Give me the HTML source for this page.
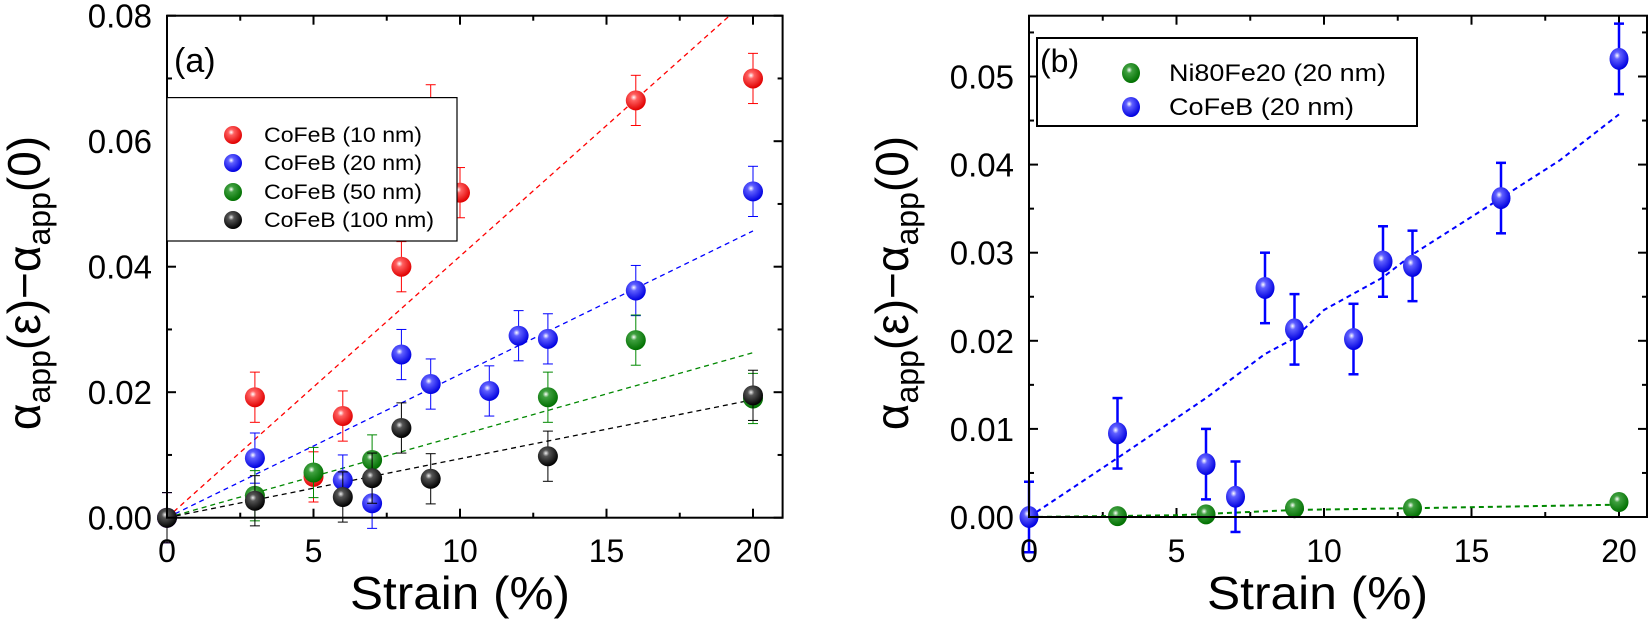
<!DOCTYPE html>
<html><head><meta charset="utf-8"><style>
html,body{margin:0;padding:0;background:#fff;}
svg{display:block;font-family:"Liberation Sans",sans-serif;}
</style></head><body>
<svg id="s" width="1649" height="621" viewBox="0 0 1649 621" xmlns="http://www.w3.org/2000/svg">
<defs>
<radialGradient id="gr" cx="0.4" cy="0.35" r="0.65"><stop offset="0" stop-color="#fff"/><stop offset="0.25" stop-color="#ff6060"/><stop offset="1" stop-color="#e00000"/></radialGradient>
<radialGradient id="gb" cx="0.4" cy="0.35" r="0.65"><stop offset="0" stop-color="#fff"/><stop offset="0.25" stop-color="#6060ff"/><stop offset="1" stop-color="#0000e0"/></radialGradient>
<radialGradient id="gg" cx="0.4" cy="0.35" r="0.65"><stop offset="0" stop-color="#fff"/><stop offset="0.25" stop-color="#40a040"/><stop offset="1" stop-color="#007000"/></radialGradient>
<radialGradient id="gk" cx="0.4" cy="0.35" r="0.65"><stop offset="0" stop-color="#eee"/><stop offset="0.25" stop-color="#555"/><stop offset="1" stop-color="#000"/></radialGradient>
</defs>
<g id="pa"></g>
<g id="pb"></g>
<rect x="167" y="15.7" width="615.6" height="502" fill="none" stroke="#000" stroke-width="2"/>
<g font-size="33" text-anchor="end">
<text x="152" y="529.7">0.00</text><text x="152" y="404.2">0.02</text><text x="152" y="278.7">0.04</text><text x="152" y="153.2">0.06</text><text x="152" y="27.7">0.08</text>
</g>
<g font-size="32" text-anchor="middle">
<text x="167" y="562">0</text><text x="313.5" y="562">5</text><text x="460" y="562">10</text><text x="606.5" y="562">15</text><text x="753" y="562">20</text>
</g>
<text x="350" y="609" font-size="46" textLength="220" lengthAdjust="spacingAndGlyphs">Strain (%)</text>
<text font-size="46" transform="translate(40,283) rotate(-90)" text-anchor="middle">α<tspan font-size="32" dy="10">app</tspan><tspan dy="-10">(ε)−α</tspan><tspan font-size="32" dy="10">app</tspan><tspan dy="-10">(0)</tspan></text>
<rect x="1029" y="15.7" width="618" height="501.3" fill="none" stroke="#000" stroke-width="2"/>
<g font-size="33" text-anchor="end">
<text x="1014" y="529">0.00</text><text x="1014" y="440.9">0.01</text><text x="1014" y="352.8">0.02</text><text x="1014" y="264.7">0.03</text><text x="1014" y="176.6">0.04</text><text x="1014" y="88.5">0.05</text>
</g>
<g font-size="32" text-anchor="middle">
<text x="1029" y="562">0</text><text x="1176.5" y="562">5</text><text x="1324" y="562">10</text><text x="1471.5" y="562">15</text><text x="1619" y="562">20</text>
</g>
<text x="1207" y="609" font-size="46" textLength="221" lengthAdjust="spacingAndGlyphs">Strain (%)</text>
<text font-size="46" transform="translate(908,283) rotate(-90)" text-anchor="middle">α<tspan font-size="32" dy="10">app</tspan><tspan dy="-10">(ε)−α</tspan><tspan font-size="32" dy="10">app</tspan><tspan dy="-10">(0)</tspan></text>
<g id="lga">
<rect x="167" y="97.6" width="290" height="143.4" fill="#fff" stroke="#000" stroke-width="1.2"/>
<circle cx="233" cy="135" r="9" fill="url(#gr)"/><circle cx="233" cy="163" r="9" fill="url(#gb)"/><circle cx="233" cy="192" r="9" fill="url(#gg)"/><circle cx="233" cy="220" r="9" fill="url(#gk)"/>
<g font-size="21"><text x="264" y="142" textLength="158" lengthAdjust="spacingAndGlyphs">CoFeB (10 nm)</text><text x="264" y="170" textLength="158" lengthAdjust="spacingAndGlyphs">CoFeB (20 nm)</text><text x="264" y="199" textLength="158" lengthAdjust="spacingAndGlyphs">CoFeB (50 nm)</text><text x="264" y="227" textLength="170" lengthAdjust="spacingAndGlyphs">CoFeB (100 nm)</text></g>
</g>
<text x="174" y="72" font-size="34">(a)</text>
<rect x="1037" y="38" width="380" height="88" fill="#fff" stroke="#000" stroke-width="2"/>
<text x="1040" y="72" font-size="32">(b)</text>
<ellipse cx="1131" cy="73" rx="9" ry="10" fill="url(#gg)"/><ellipse cx="1131" cy="107" rx="9" ry="10" fill="url(#gb)"/>
<g font-size="24"><text x="1169" y="81" textLength="217" lengthAdjust="spacingAndGlyphs">Ni80Fe20 (20 nm)</text><text x="1169" y="115" textLength="185" lengthAdjust="spacingAndGlyphs">CoFeB (20 nm)</text></g>
</svg>
<script>
var NS="http://www.w3.org/2000/svg";
function el(p,t,a){var e=document.createElementNS(NS,t);for(var k in a)e.setAttribute(k,a[k]);p.appendChild(e);return e;}
var pa=document.getElementById('pa'),pb=document.getElementById('pb');
function XA(u){return 167+29.3*u}function YA(v){return 517.7-6275*v}
function XB(u){return 1029+29.5*u}function YB(v){return 517-8810*v}
function ticks(g,X,Y,xl,xr,yt,yb,yvals){
 for(var u=0;u<=20;u+=2.5){var L=(u%5==0)?9:5;el(g,'line',{x1:X(u),x2:X(u),y1:yb,y2:yb-L,stroke:'#000','stroke-width':2});el(g,'line',{x1:X(u),x2:X(u),y1:yt,y2:yt+L,stroke:'#000','stroke-width':2});}
 yvals.forEach(function(v,i){var L=(i%2==0)?9:5;el(g,'line',{x1:xl,x2:xl+L,y1:Y(v),y2:Y(v),stroke:'#000','stroke-width':2});el(g,'line',{x1:xr,x2:xr-L,y1:Y(v),y2:Y(v),stroke:'#000','stroke-width':2});});
}
var ya=[];for(var i=0;i<=8;i++)ya.push(i*0.01);
ticks(pa,XA,YA,167,782.6,15.7,517.7,ya);
var yb=[];for(var i=0;i<=11;i++)yb.push(i*0.005);
ticks(pb,XB,YB,1029,1647,15.7,517,yb);
function fit(g,X,Y,sl,col,xmax){el(g,'line',{x1:X(0),y1:Y(0),x2:X(xmax),y2:Y(sl*xmax),stroke:col,'stroke-width':1.3,'stroke-dasharray':'5,4'});}
fit(pa,XA,YA,0.0800/19.2,'#f00',19.2);fit(pa,XA,YA,0.0457/20,'#00f',20);fit(pa,XA,YA,0.0263/20,'#080',20);fit(pa,XA,YA,0.0188/20,'#000',20);
var ccol={r:'#f00',b:'#00f',g:'#080',k:'#000'},grad={r:'gr',b:'gb',g:'gg',k:'gk'};
function pts(g,X,Y,c,data,err,sw,rx,ry){data.forEach(function(d){var x=X(d[0]),y=Y(d[1]);if(err){el(g,'line',{x1:x,x2:x,y1:Y(d[1]+err),y2:Y(d[1]-err),stroke:ccol[c],'stroke-width':sw});el(g,'line',{x1:x-5,x2:x+5,y1:Y(d[1]+err),y2:Y(d[1]+err),stroke:ccol[c],'stroke-width':sw});el(g,'line',{x1:x-5,x2:x+5,y1:Y(d[1]-err),y2:Y(d[1]-err),stroke:ccol[c],'stroke-width':sw});}});
 data.forEach(function(d){el(g,'ellipse',{cx:X(d[0]),cy:Y(d[1]),rx:rx,ry:ry,fill:'url(#'+grad[c]+')'});});}
var blue=[[0,0],[3,0.0095],[6,0.006],[7,0.0023],[8,0.026],[9,0.0213],[11,0.0202],[12,0.029],[13,0.0285],[16,0.0362],[20,0.052]];
pts(pa,XA,YA,'r',[[0,0],[3,0.0192],[5,0.0065],[6,0.0162],[8,0.040],[9,0.065],[10,0.0518],[16,0.0665],[20,0.070]],0.004,1,10,10);
pts(pa,XA,YA,'b',blue,0.004,1,10,10);
pts(pa,XA,YA,'g',[[3,0.0035],[5,0.0072],[7,0.0092],[13,0.0192],[16,0.0283],[20,0.019]],0.004,1,10,10);
pts(pa,XA,YA,'k',[[0,0],[3,0.0027],[6,0.0033],[7,0.0063],[8,0.0143],[9,0.0062],[13,0.0098],[20,0.0195]],0.004,1,10,10);
el(pb,'polyline',{points:[[0,0],[3,0.0067],[6,0.0135],[8,0.0185],[9,0.0203],[10,0.0235],[12,0.0272],[13,0.0298],[16,0.0362],[18,0.0405],[20,0.0457]].map(function(p){return XB(p[0])+','+YB(p[1])}).join(' '),fill:'none',stroke:'#00f','stroke-width':2,'stroke-dasharray':'5,4'});
el(pb,'polyline',{points:[[0,0],[5,0.0002],[9,0.0008],[13,0.001],[20,0.0014]].map(function(p){return XB(p[0])+','+YB(p[1])}).join(' '),fill:'none',stroke:'#080','stroke-width':2,'stroke-dasharray':'5,4'});
pts(pb,XB,YB,'b',blue,0.004,2.5,9.5,11);
pts(pb,XB,YB,'g',[[3,0.0001],[6,0.0003],[9,0.001],[13,0.001],[20,0.0017]],0,0,9.5,10);
</script>
</body></html>
